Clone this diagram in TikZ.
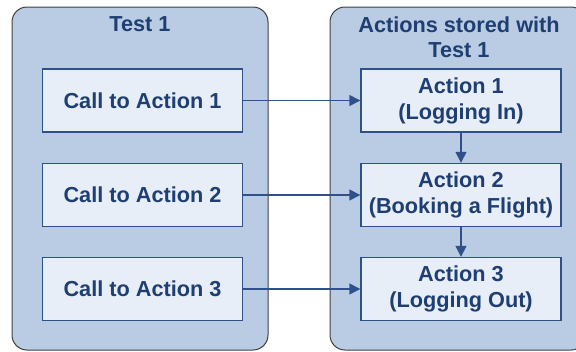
\documentclass[tikz,border=0pt]{standalone}
\usepackage{fontspec}
\setmainfont{Liberation Sans}
\usetikzlibrary{arrows.meta}
\definecolor{contfill}{HTML}{B9CCE4}
\definecolor{contborder}{HTML}{404040}
\definecolor{boxfill}{HTML}{E7EEF8}
\definecolor{boxborder}{HTML}{2F5088}
\definecolor{txt}{HTML}{1F3F73}
\tikzset{
  container/.style={draw=contborder, fill=contfill, line width=1pt, rounded corners=15pt},
  actbox/.style={draw=boxborder, fill=boxfill, line width=1.4pt, minimum width=200pt, minimum height=63pt, inner sep=0pt, align=center, text=txt, font=\fontsize{21.7}{26}\selectfont\bfseries},
  ttl/.style={text=txt, align=center, font=\fontsize{21.7}{25}\selectfont\bfseries, inner sep=0pt},
  conn/.style={draw=boxborder, line width=1.4pt, -{Triangle[length=11pt,width=11pt]}}
}
\begin{document}
\begin{tikzpicture}[x=1pt,y=-1pt]
\useasboundingbox (0,0) rectangle (576,351);
\clip (0,0) rectangle (576,351);
\draw[container] (12,7) rectangle (268,350);
\draw[container] (330,7) rectangle (586,350);
\node[ttl] (t1) at (140,24) {Test 1};
\node[ttl] (t2) at (459,37) {Actions stored with\\Test 1};
\node[actbox] (c1) at (142.5,100.5) {Call to Action 1};
\node[actbox] (c2) at (142.5,195) {Call to Action 2};
\node[actbox] (c3) at (142.5,289) {Call to Action 3};
\node[actbox] (a1) at (461,100.5) {Action 1\\(Logging In)};
\node[actbox] (a2) at (461,195) {Action 2\\(Booking a Flight)};
\node[actbox] (a3) at (461,289) {Action 3\\(Logging Out)};
\draw[conn] (c1) -- (a1);
\draw[conn] (c2) -- (a2);
\draw[conn] (c3) -- (a3);
\draw[conn] (a1) -- (a2);
\draw[conn] (a2) -- (a3);
\end{tikzpicture}
\end{document}
